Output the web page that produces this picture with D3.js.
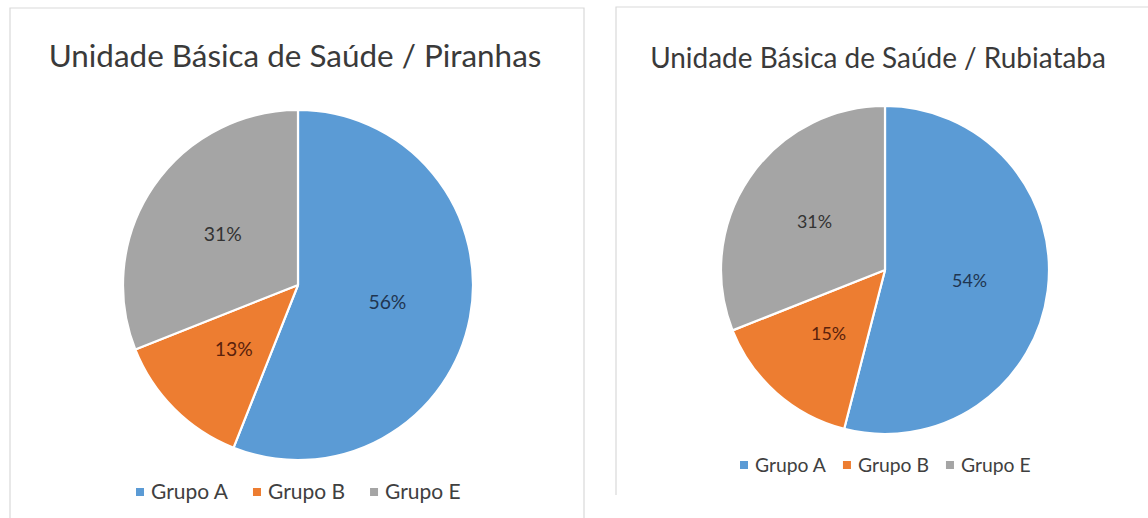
<!DOCTYPE html>
<html>
<head>
<meta charset="utf-8">
<script src="https://cdn.jsdelivr.net/npm/d3@7/dist/d3.min.js"></script>
<style>
  body { margin: 0; background: #fff; }
  svg { display: block; font-family: Lato, "Open Sans", sans-serif; }
</style>
</head>
<body>
<svg id="chart" width="1148" height="518"></svg>
<script>
// data
var groups = ['Grupo A', 'Grupo B', 'Grupo E'];
var piranhasValues = [56, 13, 31];
var rubiatabaValues = [54, 15, 31];
var titles = ['Unidade Básica de Saúde / Piranhas', 'Unidade Básica de Saúde / Rubiataba'];

var colors = ['#5b9bd5', '#ed7d31', '#a5a5a5'];
var labelColors = ['#1f3550', '#5a220c', '#333333'];

var svg = d3.select('#chart');

// panels (layout only)
var panels = [
  { values: piranhasValues, title: titles[0],
    box: [10, 8, 574, 520], cx: 298, cy: 285, r: 175,
    titleY: 67, titleW: 493, titleX: 295,
    legendY: 492, legendX: 136, legendW: 77, legendGap: 25, labelW: 38 },
  { values: rubiatabaValues, title: titles[1],
    box: [616, 7, 540, 488], cx: 885, cy: 270, r: 164,
    titleY: 68, titleW: 456, titleX: 878,
    legendY: 465, legendX: 740, legendW: 71, legendGap: 17, labelW: 35 }
];

// pick a font size so a text gets the width seen in the picture
function fitSize(sel, target) {
  sel.attr('font-size', 20);
  var w = sel.node().getComputedTextLength();
  sel.attr('font-size', 20 * target / w);
  return 20 * target / w;
}

panels.forEach(function(p) {
  var g = svg.append('g');

  // panel frame (no bottom edge visible)
  var b = p.box;
  g.append('path')
    .attr('d', 'M' + b[0] + ',' + (b[1] + b[3]) + 'V' + b[1] + 'H' + (b[0] + b[2]) + 'V' + (b[1] + b[3]))
    .attr('fill', 'none')
    .attr('stroke', '#d9d9d9')
    .attr('stroke-width', 1.2);

  var t = g.append('text')
    .attr('x', p.titleX)
    .attr('y', p.titleY)
    .attr('text-anchor', 'middle')
    .attr('fill', '#3a3a3a')
    .text(p.title);
  fitSize(t, p.titleW);

  var pie = d3.pie().sort(null).value(function(d) { return d; });
  var arcs = pie(p.values);
  var arc = d3.arc().innerRadius(0).outerRadius(p.r);
  var labelArc = d3.arc().innerRadius(p.r * 0.52).outerRadius(p.r * 0.52);

  var pg = g.append('g').attr('transform', 'translate(' + p.cx + ',' + p.cy + ')');
  pg.selectAll('path.slice')
    .data(arcs)
    .enter().append('path')
    .attr('class', 'slice')
    .attr('d', arc)
    .attr('fill', function(d, i) { return colors[i]; })
    .attr('stroke', '#fff')
    .attr('stroke-width', 2.2)
    .attr('stroke-linejoin', 'round');

  var labels = pg.selectAll('text.lbl')
    .data(arcs)
    .enter().append('text')
    .attr('class', 'lbl')
    .attr('transform', function(d) { return 'translate(' + labelArc.centroid(d) + ')'; })
    .attr('text-anchor', 'middle')
    .attr('dy', '0.35em')
    .attr('fill', function(d, i) { return labelColors[i]; })
    .text(function(d) { return d.data + '%'; });
  var ls = fitSize(d3.select(labels.nodes()[0]), p.labelW);
  labels.attr('font-size', ls);

  // legend
  var x = p.legendX;
  var fs = null;
  groups.forEach(function(name, i) {
    g.append('rect')
      .attr('x', x)
      .attr('y', p.legendY - 4)
      .attr('width', 8)
      .attr('height', 8)
      .attr('fill', colors[i]);
    var lt = g.append('text')
      .attr('x', x + 15)
      .attr('y', p.legendY)
      .attr('dy', '0.35em')
      .attr('fill', '#404040')
      .text(name);
    if (fs === null) fs = fitSize(lt, p.legendW);
    else lt.attr('font-size', fs);
    x += 15 + lt.node().getComputedTextLength() + p.legendGap;
  });
});
</script>
</body>
</html>
